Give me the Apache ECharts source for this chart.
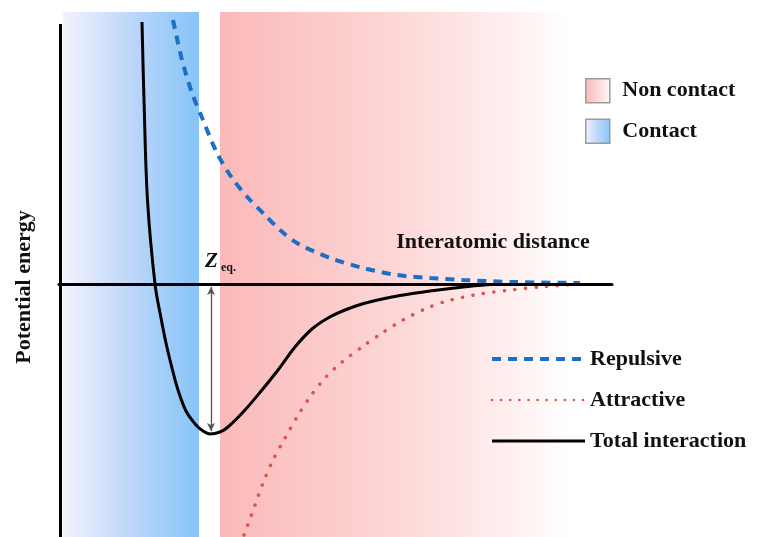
<!DOCTYPE html>
<html>
<head>
<meta charset="utf-8">
<script src="https://cdn.jsdelivr.net/npm/echarts@6/dist/echarts.min.js"></script>
<style>
html,body{margin:0;padding:0;background:#fff;}
#chart{width:760px;height:537px;}
</style>
</head>
<body>
<div id="chart"></div>
<script>
// ---- data (arbitrary units: distance vs. potential energy) ----
var totalX = [1.66, 1.70, 1.77, 1.92, 2.04, 2.14, 2.26, 2.38, 2.54, 2.74, 2.88, 3.02, 3.22, 3.38, 3.72, 4.06, 4.38, 4.72, 5.06, 5.38, 5.72, 6.06, 6.42, 6.82, 7.42, 8.08, 8.62];
var totalY = [5.24, 3.68, 1.68, 0.00, -0.68, -1.18, -1.68, -2.12, -2.54, -2.82, -2.94, -3.00, -2.96, -2.86, -2.52, -2.12, -1.72, -1.26, -0.90, -0.68, -0.52, -0.40, -0.31, -0.23, -0.14, -0.06, -0.01];

var repX = [2.28, 2.46, 2.66, 2.88, 3.16, 3.46, 3.82, 4.12, 4.42, 4.76, 5.42, 6.08, 6.76, 7.42, 8.08, 9.08, 10.42];
var repY = [5.28, 4.48, 3.82, 3.28, 2.62, 2.12, 1.68, 1.38, 1.08, 0.82, 0.52, 0.32, 0.18, 0.12, 0.08, 0.04, 0.02];

var attX = [3.70, 3.92, 4.08, 4.28, 4.52, 4.76, 5.02, 5.32, 5.66, 6.06, 6.46, 6.88, 7.32, 7.76, 8.42, 9.02, 9.62, 10.42];
var attY = [-5.02, -4.42, -3.98, -3.52, -3.08, -2.66, -2.26, -1.88, -1.56, -1.26, -0.98, -0.72, -0.50, -0.34, -0.20, -0.12, -0.06, 0.00];

var contactRange = [0.08, 2.80];      // contact region (distance)
var nonContactRange = [3.22, 10.20];  // non-contact region (distance)
var zEq = 3.04;                       // equilibrium distance
var zEqDepth = -3.0;                  // well depth

var xMin = 0, xMax = 11.06, yMin = -5.06, yMax = 5.44;

function zip(a, b) { return a.map(function (v, i) { return [v, b[i]]; }); }

var FONT = '"Liberation Serif", "Times New Roman", serif';

function hGrad(stops) {
  return new echarts.graphic.LinearGradient(0, 0, 1, 0, stops.map(function (s) { return { offset: s[0], color: s[1] }; }));
}
var blueStops = [[0, '#f3f2fd'], [0.5, '#bdd6f9'], [1, '#86c4f7']];
var pinkStops = [[0, '#fbb9b9'], [0.5, '#fdd6d6'], [0.85, '#fff1f1'], [1, '#ffffff']];

var chart = echarts.init(document.getElementById('chart'), null, { renderer: 'canvas' });

var noSymbol = { color: 'rgba(0,0,0,0)', borderWidth: 0 };

var option = {
  animation: false,
  backgroundColor: '#ffffff',
  grid: { left: 59, right: 148, top: 12, bottom: 0, containLabel: false },
  xAxis: {
    type: 'value', min: xMin, max: xMax, z: 5,
    axisLine: { show: true, onZero: true, lineStyle: { color: '#000', width: 3 } },
    axisTick: { show: false }, axisLabel: { show: false }, splitLine: { show: false }
  },
  yAxis: {
    type: 'value', min: yMin, max: yMax, show: false,
    splitLine: { show: false }
  },
  legend: [
    {
      data: [
        { name: 'Non contact', icon: 'rect', itemStyle: { color: hGrad(pinkStops), borderColor: '#9a9a9a', borderWidth: 1.5 } },
        { name: 'Contact', icon: 'rect', itemStyle: { color: hGrad(blueStops), borderColor: '#9a9a9a', borderWidth: 1.5 } }
      ],
      orient: 'vertical', left: 580, top: 73,
      itemWidth: 24, itemHeight: 24, itemGap: 15,
      formatter: function (n) { return ' ' + n; },
      selectedMode: false,
      textStyle: { fontFamily: FONT, fontWeight: 'bold', fontSize: 22, color: '#111', padding: [0, 0, 0, 2] }
    },
    {
      data: [
        { name: 'Repulsive', itemStyle: noSymbol, lineStyle: { color: '#1d6fc6', width: 4, type: [9, 7] } },
        { name: 'Attractive', itemStyle: noSymbol, lineStyle: { color: '#d8544c', width: 2.5, type: [0.1, 9], cap: 'round' } },
        { name: 'Total interaction', itemStyle: noSymbol, lineStyle: { color: '#000', width: 3, type: 'solid' } }
      ],
      orient: 'vertical', left: 485, top: 343,
      itemWidth: 93, itemHeight: 20, itemGap: 19,
      selectedMode: false,
      textStyle: { fontFamily: FONT, fontWeight: 'bold', fontSize: 22, color: '#111' }
    }
  ],
  series: [
    {
      name: 'Contact', type: 'line', data: [], z: 1, silent: true,
      markArea: {
        silent: true,
        itemStyle: { color: hGrad(blueStops) },
        data: [[{ coord: [contactRange[0], yMax] }, { coord: [contactRange[1], yMin] }]]
      }
    },
    {
      name: 'Non contact', type: 'line', data: [], z: 1, silent: true,
      markArea: {
        silent: true,
        itemStyle: { color: hGrad(pinkStops) },
        data: [[{ coord: [nonContactRange[0], yMax] }, { coord: [nonContactRange[1], yMin] }]]
      }
    },
    {
      name: 'axisY', type: 'line', data: [], z: 6, silent: true,
      markLine: {
        silent: true, symbol: ['none', 'none'], label: { show: false },
        lineStyle: { color: '#000', width: 3, type: 'solid' },
        data: [[{ coord: [0.02, 5.2] }, { coord: [0.02, yMin] }]]
      }
    },
    {
      name: 'Repulsive', type: 'line', data: zip(repX, repY), z: 3,
      smooth: 0.3, showSymbol: false, symbol: 'none',
      itemStyle: { color: '#1d6fc6' },
      lineStyle: { color: '#1d6fc6', width: 4, type: [9, 7] }
    },
    {
      name: 'Attractive', type: 'line', data: zip(attX, attY), z: 3,
      smooth: 0.3, showSymbol: false, symbol: 'none',
      itemStyle: { color: '#d8544c' },
      lineStyle: { color: '#d8544c', width: 3.5, type: [0.1, 10.5], cap: 'round' }
    },
    {
      name: 'Total interaction', type: 'line', data: zip(totalX, totalY), z: 4,
      smooth: 0.35, showSymbol: false, symbol: 'none',
      itemStyle: { color: '#000' },
      lineStyle: { color: '#000', width: 3 },
      markLine: {
        silent: true, symbol: ['arrow', 'arrow'], symbolSize: [6, 8],
        label: { show: false },
        lineStyle: { color: '#555', width: 1.3, type: 'solid' },
        data: [[{ coord: [zEq, -0.06] }, { coord: [zEq, zEqDepth + 0.06] }]]
      }
    }
  ],
  graphic: [
    {
      type: 'text', x: 24, y: 287, rotation: Math.PI / 2, z: 20,
      style: { text: 'Potential energy', fontFamily: FONT, fontWeight: 'bold', fontSize: 22, fill: '#111', align: 'center', verticalAlign: 'middle' }
    },
    {
      type: 'text', x: 493, y: 242, z: 20,
      style: { text: 'Interatomic distance', fontFamily: FONT, fontWeight: 'bold', fontSize: 22, fill: '#111', align: 'center', verticalAlign: 'middle' }
    },
    {
      type: 'text', x: 205, y: 262, z: 20,
      style: { text: 'Z', fontFamily: FONT, fontWeight: 'bold', fontStyle: 'italic', fontSize: 21, fill: '#111', align: 'left', verticalAlign: 'middle' }
    },
    {
      type: 'text', x: 221, y: 268, z: 20,
      style: { text: 'eq.', fontFamily: FONT, fontWeight: 'bold', fontSize: 12, fill: '#111', align: 'left', verticalAlign: 'middle' }
    }
  ]
};
chart.setOption(option);
</script>
</body>
</html>
